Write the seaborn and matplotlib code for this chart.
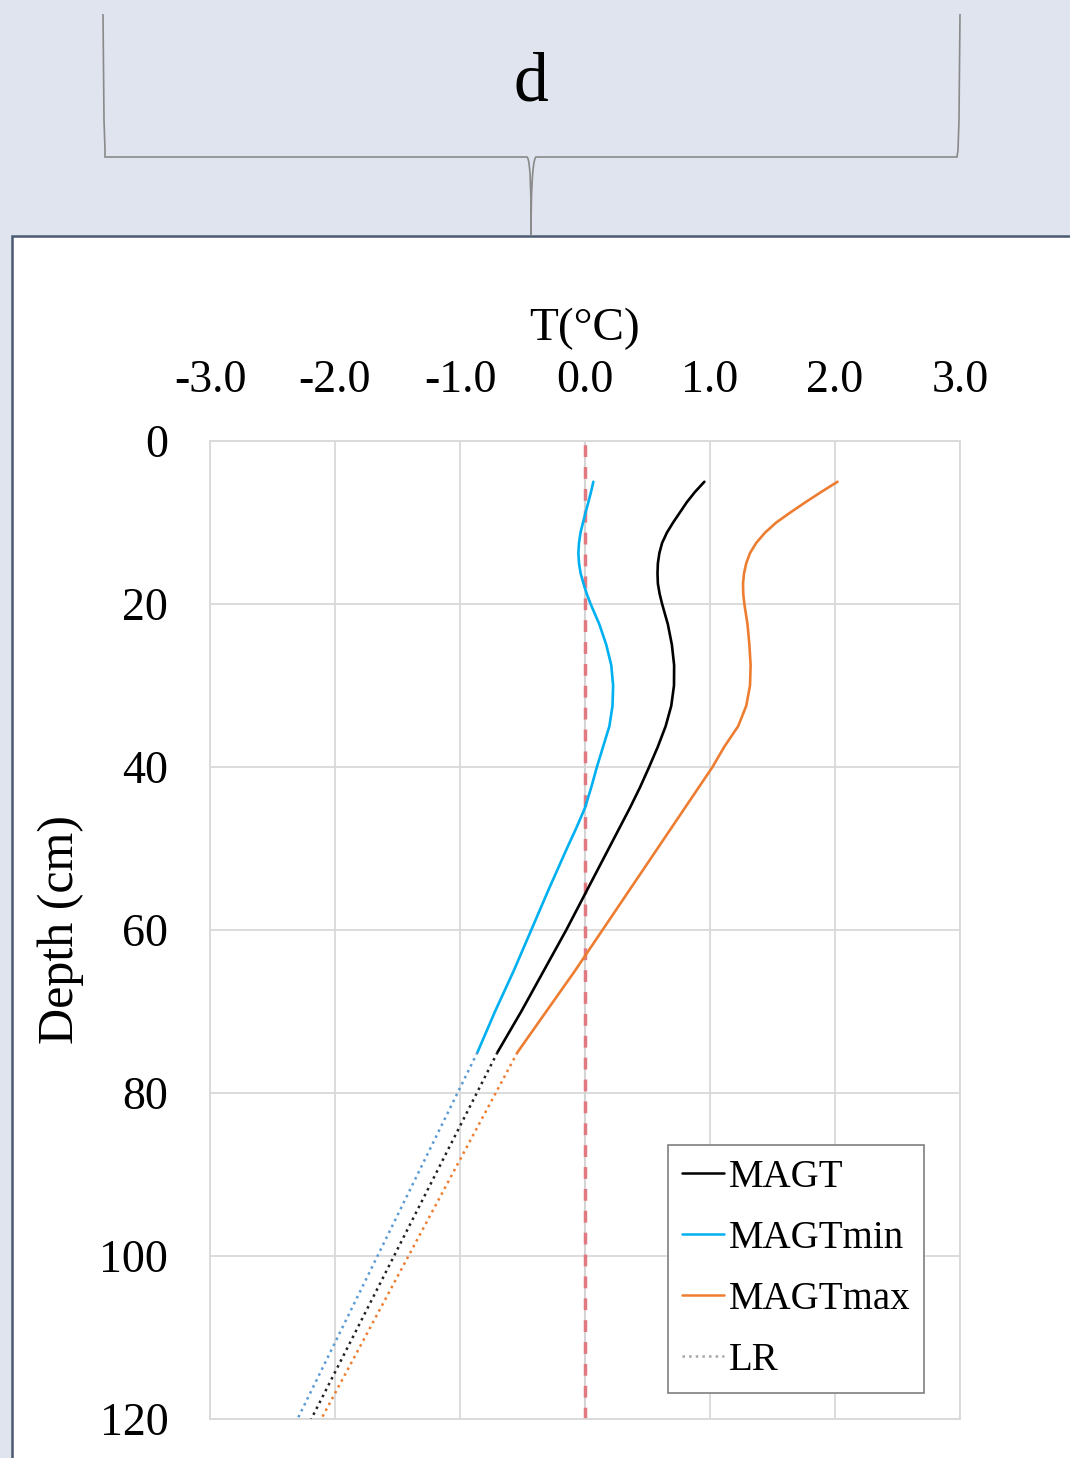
import matplotlib
matplotlib.use("Agg")
import matplotlib.pyplot as plt
import seaborn as sns
import pandas as pd
from matplotlib.path import Path
from matplotlib.patches import PathPatch, Rectangle
from matplotlib.lines import Line2D

# ---------------- data ----------------
depth = [5, 6.25, 7.5, 8.75, 10, 11.25, 12.5, 13.75, 15, 16.25, 17.5, 18.75, 20,
         22.5, 25, 27.5, 30, 32.5, 35, 37.5, 40,
         42.5, 45, 47.5, 50, 55, 60, 65, 70, 75]
magt = [0.955, 0.88, 0.815, 0.76, 0.705, 0.655, 0.617, 0.595, 0.583, 0.58, 0.583, 0.597, 0.617,
        0.663, 0.695, 0.713, 0.712, 0.69, 0.645, 0.583, 0.513,
        0.44, 0.36, 0.275, 0.19, 0.02, -0.15, -0.33, -0.51, -0.70]
magt_min = [0.067, 0.048, 0.027, 0.005, -0.016, -0.036, -0.048, -0.053, -0.048, -0.035, -0.012, 0.014, 0.045,
            0.115, 0.17, 0.21, 0.225, 0.22, 0.195, 0.145, 0.095,
            0.05, 0.0, -0.07, -0.145, -0.29, -0.43, -0.57, -0.72, -0.86]
magt_max = [2.02, 1.89, 1.765, 1.645, 1.53, 1.44, 1.37, 1.32, 1.29, 1.272, 1.264, 1.266, 1.275,
            1.30, 1.315, 1.325, 1.32, 1.29, 1.225, 1.115, 1.02,
            0.91, 0.80, 0.69, 0.58, 0.36, 0.14, -0.08, -0.31, -0.54]

lr_depth = [75, 120]
lr_magt = [-0.70, -2.19]
lr_min = [-0.86, -2.30]
lr_max = [-0.54, -2.11]

x_ticks = [-3.0, -2.0, -1.0, 0.0, 1.0, 2.0, 3.0]
y_ticks = [0, 20, 40, 60, 80, 100, 120]
legend_labels = ["MAGT", "MAGTmin", "MAGTmax", "LR"]
panel_label = "d"

# ---------------- style ----------------
sns.set_theme(style="white")
plt.rcParams['font.family'] = ['Liberation Serif', 'DejaVu Serif']
plt.rcParams['axes.unicode_minus'] = False
plt.rcParams['text.color'] = 'black'
plt.rcParams['axes.labelcolor'] = 'black'

W, H = 1070, 1458
BG = '#dfe4ee'
C_BLACK = '#000000'
C_BLUE = '#00b0f0'
C_ORANGE = '#ed7d31'
C_LRBLUE = '#5b9bd5'
C_GRID = '#d9d9d9'

fig = plt.figure(figsize=(W / 100, H / 100), dpi=100, facecolor=BG)

def fx(px):
    return px / W

def fy(py):
    return 1 - py / H

# white panel
panel = Rectangle((fx(12), fy(1470)), fx(1080) - fx(12), fy(236) - fy(1470),
                  transform=fig.transFigure, facecolor='white', edgecolor='#4a5a70',
                  linewidth=1.8, zorder=0)
fig.add_artist(panel)

# brace
verts_px = [(103, 14), (104, 120), (105, 150), (105, 157),
            (300, 157), (520, 157), (527, 157),
            (531, 160), (531, 200), (531, 236),
            (531, 200), (532, 160), (536, 157),
            (750, 157), (950, 157), (957, 157),
            (958, 150), (959, 120), (960, 14)]
codes = [Path.MOVETO, Path.LINETO, Path.LINETO, Path.LINETO,
         Path.LINETO, Path.LINETO, Path.LINETO,
         Path.CURVE4, Path.CURVE4, Path.CURVE4,
         Path.CURVE4, Path.CURVE4, Path.CURVE4,
         Path.LINETO, Path.LINETO, Path.LINETO,
         Path.LINETO, Path.LINETO, Path.LINETO]
verts = [(fx(a), fy(b)) for a, b in verts_px]
brace = PathPatch(Path(verts, codes), transform=fig.transFigure, facecolor='none',
                  edgecolor='#8a8a8a', linewidth=1.2, zorder=1)
fig.add_artist(brace)
fig.text(fx(531), fy(84), panel_label, ha='center', va='center', fontsize=50, color='black')

# axes
ax = fig.add_axes([fx(210), fy(1419), fx(960) - fx(210), fy(441) - fy(1419)])
ax.set_facecolor('white')

n = len(depth)
df_main = pd.DataFrame({
    'depth': depth * 3,
    'T': magt + magt_min + magt_max,
    'series': ['MAGT'] * n + ['MAGTmin'] * n + ['MAGTmax'] * n,
})
df_lr = pd.DataFrame({
    'depth': lr_depth * 3,
    'T': lr_magt + lr_min + lr_max,
    'series': ['MAGT'] * 2 + ['MAGTmin'] * 2 + ['MAGTmax'] * 2,
})

ax.axvline(0, color='#d4d4d4', lw=1.5, zorder=1)
ax.axvline(0, color='#e07a80', lw=2.5, ls=(0, (3.4, 2.9)), zorder=2)

sns.lineplot(data=df_main, x='T', y='depth', hue='series',
             palette={'MAGT': C_BLACK, 'MAGTmin': C_BLUE, 'MAGTmax': C_ORANGE},
             sort=False, estimator=None, lw=1.9, legend=False, ax=ax, zorder=3)
for ln in ax.get_lines()[-3:]:
    ln.set_solid_joinstyle('round')
sns.lineplot(data=df_lr, x='T', y='depth', hue='series',
             palette={'MAGT': '#222222', 'MAGTmin': C_LRBLUE, 'MAGTmax': C_ORANGE},
             sort=False, estimator=None, lw=1.8, ls=':', legend=False, ax=ax, zorder=3)

ax.set_xlim(-3, 3)
ax.set_ylim(120, 0)
ax.set_xticks(x_ticks)
ax.set_xticklabels([f"{v:.1f}" for v in x_ticks])
ax.set_yticks(y_ticks)
ax.set_yticklabels([str(v) for v in y_ticks])
ax.xaxis.tick_top()
ax.xaxis.set_label_position('top')
ax.tick_params(axis='x', which='both', length=0, pad=28, labelsize=33, colors='black')
ax.tick_params(axis='y', which='both', length=0, pad=30, labelsize=33, colors='black')
ax.grid(True, color=C_GRID, lw=1.3)
ax.set_axisbelow(True)
for s in ax.spines.values():
    s.set_color(C_GRID)
    s.set_linewidth(1.3)

ax.set_xlabel('T(°C)', fontsize=34, labelpad=14, color='black')
ax.set_ylabel('Depth (cm)', fontsize=36, labelpad=11, color='black')

handles = [Line2D([], [], color=C_BLACK, lw=1.8),
           Line2D([], [], color=C_BLUE, lw=1.8),
           Line2D([], [], color=C_ORANGE, lw=1.8),
           Line2D([], [], color='#a6a6a6', lw=1.8, ls=':')]
leg = ax.legend(handles, legend_labels, loc='upper left',
                bbox_to_anchor=(fx(668), fy(1145)), bbox_transform=fig.transFigure,
                fontsize=28, frameon=True, fancybox=False, framealpha=1,
                edgecolor='#7f7f7f', handlelength=1.1, handletextpad=0.12,
                labelspacing=0.62, borderpad=0.35, borderaxespad=0)
leg.get_frame().set_linewidth(1.2)
for t in leg.get_texts():
    t.set_color('black')

fig.savefig('out.png', dpi=100, facecolor=BG)
